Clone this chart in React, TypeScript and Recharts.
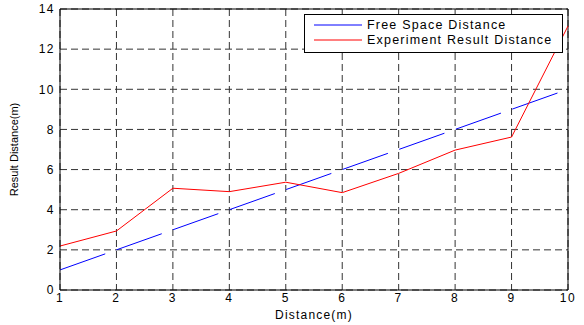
import React from 'react';
import { LineChart, Line, XAxis, YAxis, CartesianGrid, ReferenceLine } from 'recharts';

const distances = [1, 2, 3, 4, 5, 6, 7, 8, 9, 10];
const freeSpace = [1, 2, 3, 4, 5, 6, 7, 8, 9, 10];
const experiment = [2.19, 2.94, 5.07, 4.9, 5.37, 4.85, 5.81, 6.97, 7.62, 13.15];
const yTicks = [0, 2, 4, 6, 8, 10, 12, 14];

const seriesInfo = [
  { key: 'free', name: 'Free Space Distance', color: '#0000ff' },
  { key: 'exp', name: 'Experiment Result Distance', color: '#ff0000' },
];

const data = distances.map((d, i) => ({ d, free: freeSpace[i], exp: experiment[i] }));

const FONT = 'Liberation Sans, Arial, sans-serif';

// legend drawn as an overlay so it doesn't shrink the plot area
const BoxLegend = () => (
  <div
    style={{
      position: 'absolute',
      left: 304,
      top: 14,
      width: 257,
      height: 37,
      border: '1px solid #000',
      background: '#fff',
      fontFamily: FONT,
      fontSize: 12.5,
      letterSpacing: 1.2,
      color: '#000',
      boxSizing: 'content-box',
    }}
  >
    {seriesInfo.map((s, i) => (
      <div
        key={s.key}
        style={{ position: 'absolute', left: 9, top: i === 0 ? 2 : 17, display: 'flex', alignItems: 'center', height: 16, whiteSpace: 'nowrap' }}
      >
        <svg width={48} height={6} style={{ marginRight: 5 }}>
          <line x1={0} y1={3} x2={48} y2={3} stroke={s.color} strokeWidth={1} />
        </svg>
        <span>{s.name}</span>
      </div>
    ))}
  </div>
);

export default function App() {
  return (
    <div style={{ position: 'absolute', left: 0, top: 0, width: 584, height: 325, background: '#fff' }}>
      <LineChart width={584} height={325} data={data} margin={{ top: 9, right: 16, left: 0, bottom: 0 }}>
        <CartesianGrid stroke="#333" strokeDasharray="7 4" />
        <XAxis
          dataKey="d"
          type="number"
          domain={[1, 10]}
          ticks={distances}
          height={35}
          stroke="#000"
          tickLine={false}
          tickSize={0}
          tick={{ fill: '#000', fontSize: 12, fontFamily: FONT, letterSpacing: 1.5 }}
          tickMargin={3}
          label={{ value: 'Distance(m)', position: 'insideBottom', offset: 6, fill: '#000', fontSize: 12, fontFamily: FONT, letterSpacing: 1.2 }}
        />
        <YAxis
          type="number"
          domain={[0, 14]}
          ticks={yTicks}
          width={60}
          stroke="#000"
          tickLine={false}
          tickSize={0}
          tick={{ fill: '#000', fontSize: 12, fontFamily: FONT, letterSpacing: 1.5 }}
          tickMargin={5}
          label={{ value: 'Result Distance(m)', angle: -90, position: 'insideLeft', offset: 14, fill: '#000', fontSize: 11, fontFamily: FONT, style: { textAnchor: 'middle' } }}
        />
        <ReferenceLine y={14} stroke="#000" />
        <ReferenceLine x={10} stroke="#000" />
        <Line
          dataKey="free"
          name="Free Space Distance"
          stroke="#0000ff"
          strokeWidth={1}
          strokeDasharray="48 12"
          dot={false}
          isAnimationActive={false}
        />
        <Line
          dataKey="exp"
          name="Experiment Result Distance"
          stroke="#ff0000"
          strokeWidth={1}
          dot={false}
          isAnimationActive={false}
        />
      </LineChart>
      <BoxLegend />
    </div>
  );
}
